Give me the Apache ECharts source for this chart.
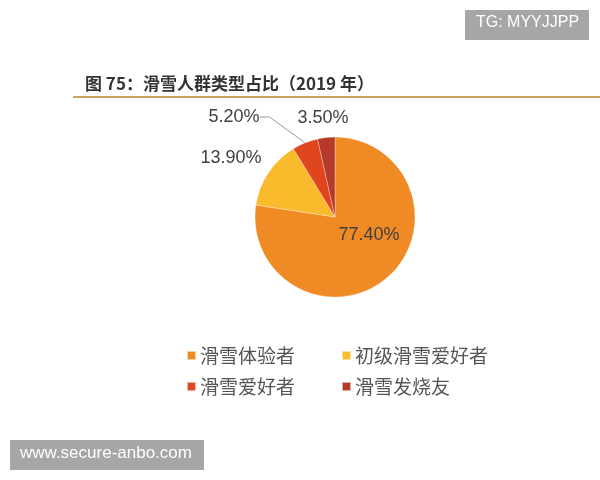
<!DOCTYPE html>
<html><head><meta charset="utf-8">
<script src="https://cdn.jsdelivr.net/npm/echarts@6/dist/echarts.min.js"></script>
<style>html,body{margin:0;padding:0;background:#fff}#c{width:600px;height:480px}</style>
</head><body><div id="c"></div>
<script>
const categories = ['滑雪体验者', '初级滑雪爱好者', '滑雪爱好者', '滑雪发烧友'];
const values = [77.4, 13.9, 5.2, 3.5];
const colors = ['#F08A24', '#F9BA2C', '#E0461E', '#B63A2B'];
const titleText = '图 75：滑雪人群类型占比（2019 年）';

const chart = echarts.init(document.getElementById('c'));
const fontFam = '"Noto Sans CJK SC", "Liberation Sans", sans-serif';
// label anchor placements (label text only, not the slices)
const labelPlace = [null, [231, 158], [234, 117], [323, 118]];
const legendStyle = {
  itemWidth: 9, itemHeight: 9, itemGap: 46, icon: 'rect',
  textStyle: { fontSize: 19, color: '#555', fontFamily: fontFam, padding: [0, 0, 0, -1] }
};
chart.setOption({
  animation: false,
  color: colors,
  graphic: [
    { type: 'text', left: 85, top: 75, style: { text: titleText, font: 'bold 17px ' + fontFam, fill: '#333' } },
    { type: 'line', shape: { x1: 73, y1: 97, x2: 600, y2: 97 }, style: { stroke: '#C9A25C', lineWidth: 2 } },
    { type: 'rect', shape: { x: 465, y: 10, width: 124, height: 30 }, style: { fill: '#A6A6A6' } },
    { type: 'text', left: 476, top: 15, style: { text: 'TG: MYYJJPP', font: '16px "Liberation Sans", sans-serif', fill: '#fff' } },
    { type: 'rect', shape: { x: 10, y: 440, width: 194, height: 30 }, style: { fill: '#A6A6A6' } },
    { type: 'text', left: 20, top: 445, style: { text: 'www.secure-anbo.com', font: '17px "Liberation Sans", sans-serif', fill: '#fff' } }
  ],
  legend: [
    Object.assign({ left: 181, top: 341, data: categories.slice(0, 2) }, legendStyle),
    Object.assign({ left: 181, top: 372, data: categories.slice(2, 4) }, legendStyle)
  ],
  series: [{
    type: 'pie',
    center: [335, 217],
    radius: [0, 80],
    startAngle: 90,
    clockwise: true,
    avoidLabelOverlap: false,
    itemStyle: { borderColor: 'rgba(255,255,255,0.6)', borderWidth: 0.5 },
    label: { formatter: p => p.value.toFixed(2) + '%', fontSize: 18, color: '#404040', fontFamily: '"Liberation Sans", sans-serif' },
    labelLine: { length: 8, length2: 10, lineStyle: { color: '#999', width: 1 } },
    labelLayout: function (p) {
      const pl = labelPlace[p.dataIndex];
      if (!pl) return {};
      return { x: pl[0], y: pl[1], align: 'center', verticalAlign: 'middle', hideOverlap: false };
    },
    data: categories.map((n, i) => ({
      name: n, value: values[i],
      label: i === 0 ? { position: 'inside', offset: [6, -15] } : { position: 'outside' },
      labelLine: { show: i === 2 }
    }))
  }]
});
</script></body></html>
